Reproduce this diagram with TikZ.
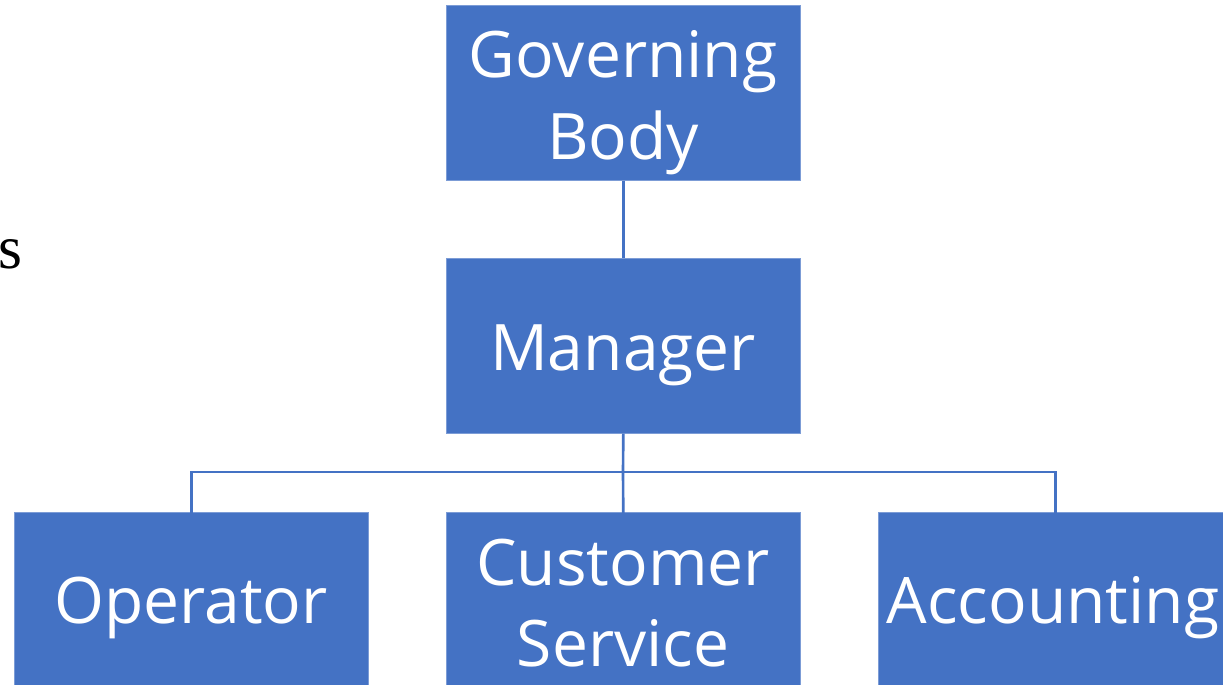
\documentclass[tikz,border=0pt]{standalone}
\usepackage{fontspec}
\setmainfont{Liberation Serif}
\newfontfamily\boxfont{Open Sans}
\usepackage{tikz}
\usetikzlibrary{positioning}
\definecolor{orgblue}{HTML}{4472C4}
\tikzset{orgbox/.style={rectangle, fill=orgblue, draw=orgblue!70!white, line width=0.4pt, minimum width=7.08cm, minimum height=3.5cm, inner sep=0pt, text=white, font=\boxfont\fontsize{36.5}{46.5}\selectfont, align=center, anchor=north west}, orglabel/.style={text=white, font=\boxfont\fontsize{36.5}{46.5}\selectfont, align=center}, link/.style={draw=orgblue, line width=1.5pt}}

\begin{document}
\begin{tikzpicture}[x=0.02cm, y=-0.02cm]
                 \useasboundingbox (0,0) rectangle (1223,684);

                 \node[orgbox] (gov) at (446,5) {};
                 \node[orgbox] (man) at (446,258) {};
                 \node[orglabel] (govlbl) at (623,103) {Governing\\Body};
                 \node[orglabel] (manlbl) at (623,355) {Manager};

                 \node[orgbox] (oper) at (14,512) {};
                 \node[orgbox] (cust) at (446,512) {};
                 \node[orgbox] (acct) at (878,512) {};
                 % labels sit in the visible part of the bottom row
                 \node[orglabel] (operlbl) at (191,608) {Operator};
                 \node[orglabel] (custlbl) at (623,603) {Customer\\Service};
                 \node[orglabel] (acctlbl) at (1053,608) {Accounting};

                 \node[font=\fontsize{35}{40}\selectfont, anchor=base west, inner sep=0pt] (stray) at (-2,268) {s};

                 \coordinate (bus) at (623,472);
                 \draw[link] (gov.south) -- (man.north);
                 \draw[link] (man.south) -- (bus);
                 \draw[link] (bus) -| ([yshift=-4]oper.north);
                 \draw[link] (bus) -- ([yshift=-4]cust.north);
                 \draw[link] (bus) -| ([yshift=-4]acct.north);

\end{tikzpicture}
\end{document}
